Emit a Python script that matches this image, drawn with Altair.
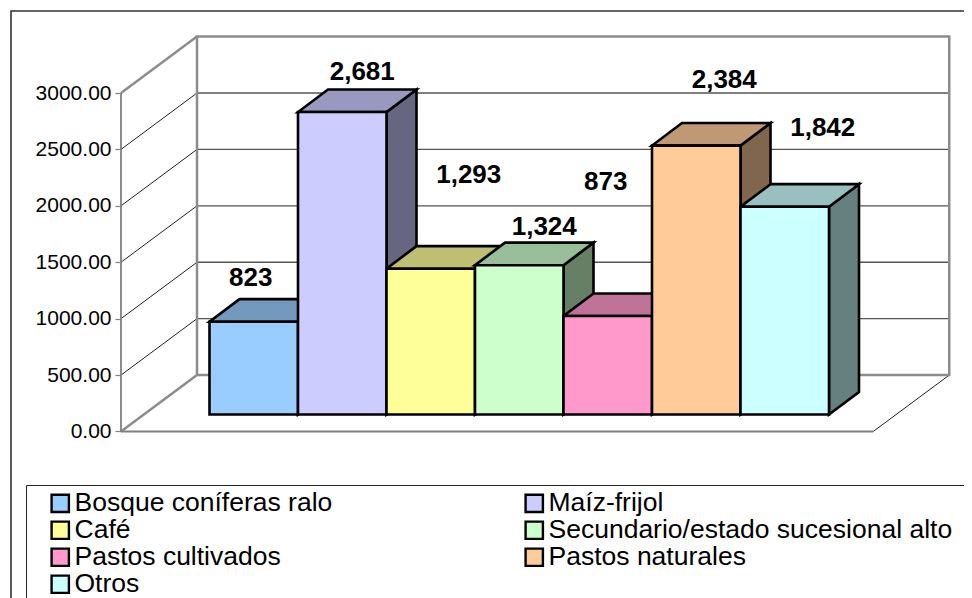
import altair as alt
import pandas as pd

names = ["Bosque coníferas ralo", "Maíz-frijol", "Café", "Secundario/estado sucesional alto",
         "Pastos cultivados", "Pastos naturales", "Otros"]
values = [823, 2681, 1293, 1324, 873, 2384, 1842]
front_colors = ["#99CCFF", "#CCCCFF", "#FFFF99", "#CCFFCC", "#FF99CC", "#FFCC99", "#CCFFFF"]
top_colors = ["#7399BF", "#9999BF", "#BFBF73", "#99BF99", "#BF7399", "#BF9973", "#99BFBF"]
side_colors = ["#4D6680", "#666680", "#80804D", "#668066", "#804D66", "#80664D", "#668080"]
y_ticks = [0, 500, 1000, 1500, 2000, 2500, 3000]

# layout of the 3-D box, in axis units
W, H = 956, 590
X_DOMAIN = [-1.2768, 9.5254]
Y_DOMAIN = [-1475.7, 3753.4]
FLOOR_W = 8.5
WALL_DX = 0.8588
WALL_DV = 500
BAR_DX = 0.339
BAR_DV = 200
BAR_BASE = 150
BAR_START = 1.0
label_dx = [-3, 20, 38, 25, -2, 28, 38]
label_dy = [-44, -40, -94, -38, -134, -66, -79]

xs = alt.Scale(domain=X_DOMAIN, nice=False, zero=False)
ys = alt.Scale(domain=Y_DOMAIN, nice=False, zero=False)
y_axis = alt.Axis(
    values=y_ticks, format=".2f", title=None, domain=False, grid=False, offset=-113, zindex=1,
    tickColor="#808080", tickSize=6, tickWidth=1.2, labelColor="#000000",
    labelFont="Liberation Sans", labelFontSize=21, labelPadding=4)
X = lambda f="u": alt.X(f"{f}:Q", scale=xs, axis=None, stack=None)
Y = lambda f="v": alt.Y(f"{f}:Q", scale=ys, axis=y_axis, stack=None)

sides, tops, fronts = [], [], []
for i, (n, val) in enumerate(zip(names, values)):
    l, r = BAR_START + i, BAR_START + i + 1
    t = BAR_BASE + val
    sides += [dict(name=n, fillc=side_colors[i], u=r, lo=BAR_BASE, hi=t),
              dict(name=n, fillc=side_colors[i], u=r + BAR_DX, lo=BAR_BASE + BAR_DV, hi=t + BAR_DV)]
    tops += [dict(name=n, fillc=top_colors[i], v=t, a=l, b=r),
             dict(name=n, fillc=top_colors[i], v=t + BAR_DV, a=l + BAR_DX, b=r + BAR_DX)]
    fronts.append(dict(name=n, l=l, r=r, lo=BAR_BASE, hi=t))


def segs(pairs):
    rows = []
    for k, pts in enumerate(pairs):
        for o, (u, v) in enumerate(pts):
            rows.append(dict(seg=k, ord=o, u=u, v=v))
    return pd.DataFrame(rows)


def line(pairs, color, width):
    return alt.Chart(segs(pairs)).mark_line(color=color, strokeWidth=width, clip=False).encode(
        x=X(), y=Y(), detail="seg:N", order="ord:Q")


mid = y_ticks[1:-1]
back_l, back_r = WALL_DX, WALL_DX + FLOOR_W
grid_back = line([[(back_l, m + WALL_DV), (back_r, m + WALL_DV)] for m in mid], "#555555", 1.3)
grid_side = line([[(0, m), (WALL_DX, m + WALL_DV)] for m in mid] + [[(FLOOR_W, 0), (back_r, WALL_DV)]], "#222222", 1)
wall = line([[(back_l, WALL_DV), (back_l, 3000 + WALL_DV), (back_r, 3000 + WALL_DV),
              (back_r, WALL_DV), (back_l, WALL_DV)],
             [(0, 3000), (back_l, 3000 + WALL_DV)],
             [(0, 0), (back_l, WALL_DV)]], "#8C8C8C", 2.5)
front_edges = line([[(0, 0), (0, 3000)], [(0, 0), (FLOOR_W, 0)]], "#808080", 1.8)

side_layer = alt.Chart(pd.DataFrame(sides)).mark_area(stroke="#000000", strokeWidth=2.6, strokeJoin="miter").encode(
    x=X(), y=Y("lo"), y2="hi:Q", detail="name:N", fill=alt.Fill("fillc:N", scale=None))
top_layer = alt.Chart(pd.DataFrame(tops)).mark_area(orient="horizontal", stroke="#000000", strokeWidth=2.6, strokeJoin="miter").encode(
    y=Y(), x=X("a"), x2="b:Q", detail="name:N", fill=alt.Fill("fillc:N", scale=None))
front_layer = alt.Chart(pd.DataFrame(fronts)).mark_rect(stroke="#000000", strokeWidth=2.6).encode(
    x=X("l"), x2="r:Q", y=Y("lo"), y2="hi:Q",
    fill=alt.Fill("name:N", sort=None, scale=alt.Scale(domain=names, range=front_colors),
                  legend=alt.Legend(
                      title=None, orient="none", legendX=39, legendY=482, columns=2, direction="horizontal",
                      symbolType="square", symbolSize=300, symbolStrokeColor="#000000",
                      symbolStrokeWidth=2.4, symbolOpacity=1, labelFont="Liberation Sans",
                      labelFontSize=26.5, labelColor="#000000", labelLimit=700, labelOffset=1,
                      rowPadding=-1.3, columnPadding=187, gridAlign="each")))

labels = []
for i, (n, val) in enumerate(zip(names, values)):
    labels.append(alt.Chart(pd.DataFrame([dict(u=BAR_START + i + 0.5, v=BAR_BASE + val, t=f"{val:,}")])).mark_text(
        font="Liberation Sans", fontSize=26, fontWeight="bold", color="#000000",
        dx=label_dx[i], dy=label_dy[i]).encode(x=X(), y=Y(), text="t:N"))

frame = alt.Chart(pd.DataFrame({"a": [0]})).mark_rect(fill="#FFFFFF", stroke="#333333", strokeWidth=1.6).encode(
    x=alt.value(3), x2=alt.value(1000), y=alt.value(3), y2=alt.value(1000))
legend_box = alt.Chart(pd.DataFrame({"a": [0]})).mark_rect(fill="#FFFFFF", stroke="#222222", strokeWidth=1).encode(
    x=alt.value(18.5), x2=alt.value(1000), y=alt.value(477.5), y2=alt.value(1000))

chart = alt.layer(frame, legend_box, grid_back, grid_side, wall, front_edges,
                  side_layer, top_layer, front_layer, *labels).properties(
    width=W, height=H, padding=0, background="#FFFFFF",
    autosize=alt.AutoSizeParams(type="none")
).configure_view(stroke=None)

chart.save("out.html", embed_options={"renderer": "svg", "actions": False})
